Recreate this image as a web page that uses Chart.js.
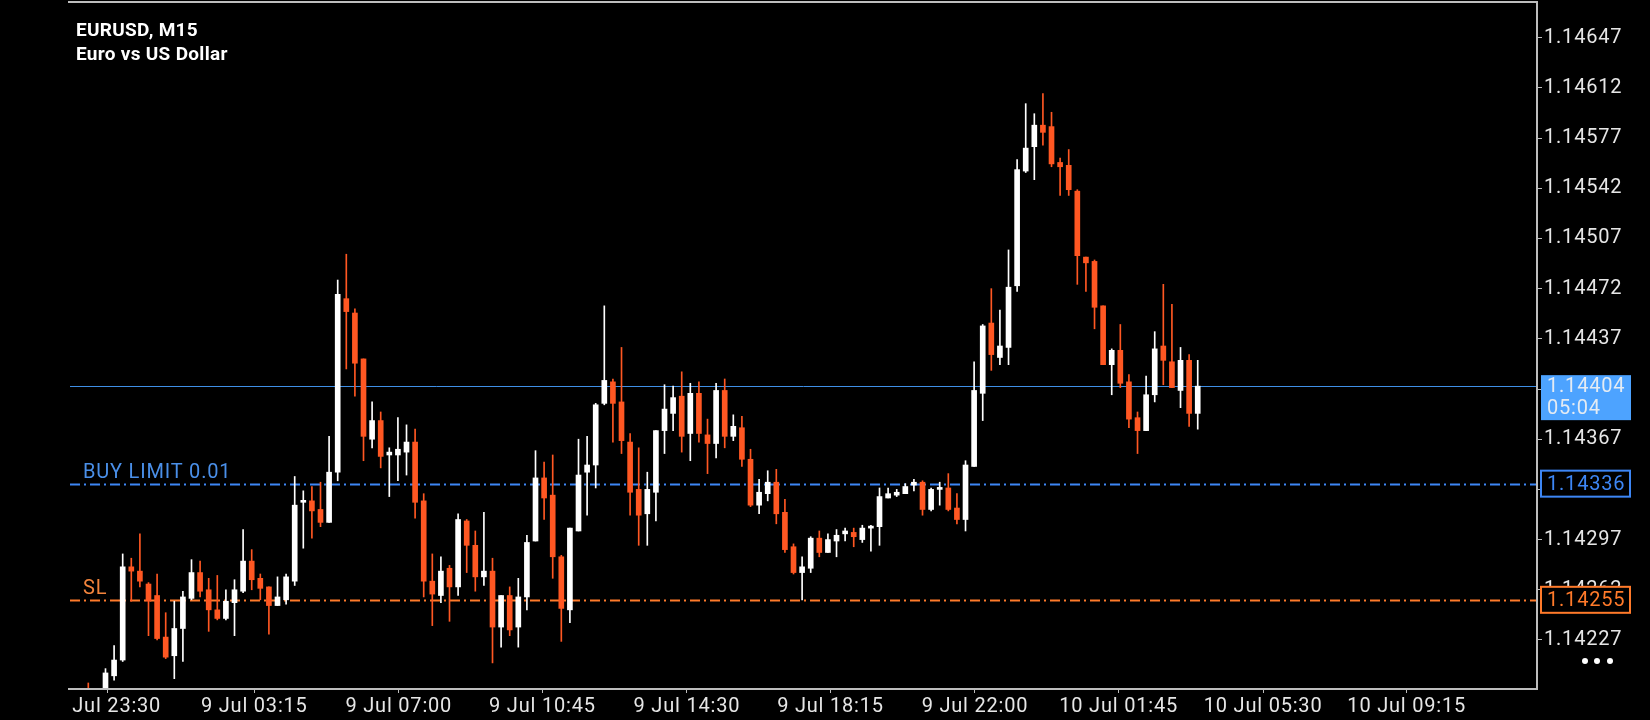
<!DOCTYPE html>
<html>
<head>
<meta charset="utf-8">
<script src="https://cdn.jsdelivr.net/npm/chart.js@4.4.1/dist/chart.umd.min.js"></script>
<style>
  html, body { margin: 0; padding: 0; background: #000; }
  canvas { display: block; }
</style>
</head>
<body>
<canvas id="chart" width="1650" height="720"></canvas>
<script>
// EURUSD M15 candles, oldest first (bar index = position on the time axis)
const open = [
  1.14190, 1.14184, 1.14188, 1.14202, 1.14213, 1.14278, 1.14275, 1.14266, 1.14258, 1.14229,
  1.14216, 1.14235, 1.14256, 1.14274, 1.14262, 1.14248, 1.14242, 1.14253, 1.14261, 1.14282,
  1.14270, 1.14264, 1.14251, 1.14255, 1.14268, 1.14323, 1.14324, 1.14318, 1.14309, 1.14344,
  1.14465, 1.14455, 1.14423, 1.14367, 1.14380, 1.14356, 1.14356, 1.14358, 1.14365, 1.14324,
  1.14268, 1.14258, 1.14277, 1.14264, 1.14310, 1.14293, 1.14271, 1.14275, 1.14236, 1.14258,
  1.14236, 1.14257, 1.14296, 1.14340, 1.14328, 1.14285, 1.14248, 1.14303, 1.14344, 1.14349,
  1.14392, 1.14407, 1.14393, 1.14365, 1.14332, 1.14315, 1.14330, 1.14373, 1.14385, 1.14397,
  1.14371, 1.14399, 1.14370, 1.14364, 1.14401, 1.14369, 1.14375, 1.14353, 1.14321, 1.14329,
  1.14337, 1.14316, 1.14292, 1.14274, 1.14277, 1.14298, 1.14288, 1.14296, 1.14301, 1.14302,
  1.14297, 1.14305, 1.14306, 1.14326, 1.14328, 1.14329, 1.14335, 1.14337, 1.14318, 1.14332,
  1.14333, 1.14319, 1.14311, 1.14348, 1.14399, 1.14448, 1.14424, 1.14431, 1.14474, 1.14554,
  1.14571, 1.14586, 1.14585, 1.14560, 1.14558, 1.14540, 1.14494, 1.14491, 1.14460, 1.14419,
  1.14429, 1.14407, 1.14382, 1.14373, 1.14398, 1.14432, 1.14421, 1.14401, 1.14422, 1.14385
];
const high = [
  1.14197, 1.14191, 1.14207, 1.14223, 1.14287, 1.14284, 1.14301, 1.14267, 1.14273, 1.14246,
  1.14254, 1.14261, 1.14283, 1.14282, 1.14270, 1.14272, 1.14262, 1.14269, 1.14304, 1.14290,
  1.14273, 1.14264, 1.14271, 1.14273, 1.14341, 1.14331, 1.14334, 1.14337, 1.14369, 1.14478,
  1.14496, 1.14458, 1.14423, 1.14393, 1.14386, 1.14361, 1.14382, 1.14377, 1.14374, 1.14329,
  1.14287, 1.14285, 1.14279, 1.14315, 1.14311, 1.14303, 1.14316, 1.14284, 1.14258, 1.14264,
  1.14270, 1.14300, 1.14359, 1.14351, 1.14356, 1.14286, 1.14305, 1.14367, 1.14369, 1.14392,
  1.14460, 1.14409, 1.14431, 1.14371, 1.14361, 1.14344, 1.14373, 1.14405, 1.14404, 1.14414,
  1.14406, 1.14407, 1.14381, 1.14406, 1.14409, 1.14384, 1.14383, 1.14360, 1.14339, 1.14345,
  1.14346, 1.14325, 1.14294, 1.14285, 1.14299, 1.14303, 1.14301, 1.14304, 1.14305, 1.14305,
  1.14307, 1.14307, 1.14333, 1.14333, 1.14332, 1.14336, 1.14339, 1.14338, 1.14333, 1.14337,
  1.14343, 1.14329, 1.14352, 1.14421, 1.14447, 1.14472, 1.14457, 1.14499, 1.14562, 1.14601,
  1.14594, 1.14608, 1.14595, 1.14563, 1.14569, 1.14541, 1.14494, 1.14492, 1.14460, 1.14430,
  1.14447, 1.14412, 1.14386, 1.14411, 1.14442, 1.14475, 1.14461, 1.14431, 1.14426, 1.14422
];
const low = [
  1.14180, 1.14178, 1.14185, 1.14199, 1.14212, 1.14254, 1.14264, 1.14230, 1.14227, 1.14214,
  1.14200, 1.14212, 1.14255, 1.14257, 1.14233, 1.14241, 1.14241, 1.14230, 1.14260, 1.14262,
  1.14255, 1.14231, 1.14251, 1.14252, 1.14265, 1.14291, 1.14298, 1.14306, 1.14309, 1.14338,
  1.14416, 1.14397, 1.14352, 1.14361, 1.14347, 1.14327, 1.14338, 1.14342, 1.14312, 1.14257,
  1.14237, 1.14253, 1.14240, 1.14258, 1.14274, 1.14261, 1.14265, 1.14211, 1.14222, 1.14230,
  1.14222, 1.14248, 1.14296, 1.14311, 1.14270, 1.14226, 1.14239, 1.14303, 1.14314, 1.14333,
  1.14391, 1.14365, 1.14357, 1.14314, 1.14293, 1.14293, 1.14310, 1.14357, 1.14373, 1.14358,
  1.14352, 1.14365, 1.14343, 1.14354, 1.14361, 1.14366, 1.14348, 1.14320, 1.14315, 1.14324,
  1.14308, 1.14288, 1.14273, 1.14255, 1.14274, 1.14285, 1.14288, 1.14285, 1.14296, 1.14292,
  1.14295, 1.14289, 1.14293, 1.14326, 1.14327, 1.14329, 1.14331, 1.14314, 1.14317, 1.14321,
  1.14317, 1.14308, 1.14303, 1.14348, 1.14380, 1.14415, 1.14419, 1.14419, 1.14470, 1.14553,
  1.14548, 1.14572, 1.14557, 1.14537, 1.14537, 1.14475, 1.14470, 1.14444, 1.14419, 1.14398,
  1.14403, 1.14375, 1.14357, 1.14373, 1.14393, 1.14405, 1.14403, 1.14389, 1.14376, 1.14374
];
const close = [
  1.14185, 1.14188, 1.14204, 1.14213, 1.14278, 1.14275, 1.14268, 1.14254, 1.14228, 1.14215,
  1.14235, 1.14257, 1.14274, 1.14261, 1.14248, 1.14242, 1.14254, 1.14262, 1.14282, 1.14269,
  1.14263, 1.14251, 1.14257, 1.14271, 1.14321, 1.143235, 1.14317, 1.14309, 1.14344, 1.14468,
  1.14456, 1.14420, 1.14369, 1.14380, 1.14355, 1.14358, 1.14360, 1.14365, 1.14323, 1.14268,
  1.14259, 1.14275, 1.14264, 1.14311, 1.14293, 1.14271, 1.14275, 1.14236, 1.14258, 1.14234,
  1.14257, 1.14295, 1.14340, 1.14326, 1.14285, 1.14249, 1.14305, 1.14342, 1.14349, 1.14391,
  1.14408, 1.14392, 1.14366, 1.14330, 1.14314, 1.14332, 1.14373, 1.14388, 1.14396, 1.14369,
  1.14399, 1.14371, 1.14364, 1.14401, 1.14369, 1.14376, 1.14353, 1.14321, 1.14330, 1.14337,
  1.14315, 1.14290, 1.14274, 1.14278, 1.14298, 1.14288, 1.14297, 1.14300, 1.14303, 1.14299,
  1.14305, 1.143055, 1.14327, 1.14329, 1.14330, 1.14334, 1.14337, 1.14318, 1.14332, 1.143325,
  1.14318, 1.14311, 1.14349, 1.14401, 1.14446, 1.14426, 1.14432, 1.14473, 1.14555, 1.14570,
  1.14586, 1.14581, 1.14559, 1.14557, 1.14541, 1.14495, 1.14490, 1.14459, 1.14419, 1.14429,
  1.14406, 1.14381, 1.14373, 1.14398, 1.14430, 1.14422, 1.14403, 1.14422, 1.14385, 1.14404
];

const priceTicks = [1.14227, 1.14262, 1.14297, 1.14332, 1.14367, 1.14402, 1.14437,
                    1.14472, 1.14507, 1.14542, 1.14577, 1.14612, 1.14647];
const timeTickPos = [2.27, 19.3, 36.1, 52.8, 69.6, 86.3, 103.1, 119.8, 136.6, 153.3];
const timeLabels = ['8 Jul 23:30', '9 Jul 03:15', '9 Jul 07:00', '9 Jul 10:45', '9 Jul 14:30',
                    '9 Jul 18:15', '9 Jul 22:00', '10 Jul 01:45', '10 Jul 05:30', '10 Jul 09:15'];

const currentPrice = 1.14404;
const barTimeLeft = '05:04';
const buyLimit = 1.14336;
const buyLimitText = 'BUY LIMIT 0.01';
const stopLoss = 1.14255;
const stopLossText = 'SL';

const bullColor = '#ffffff';
const bearColor = '#ff5722';
const textFont = '20px Roboto';
const candleColors = open.map((o, i) => close[i] >= o ? bullColor : bearColor);
const barIndex = open.map((_, i) => i);

// price lines sit behind the candles
const priceLines = {
    id: 'priceLines',
    beforeDatasetsDraw(chart) {
        const { ctx, chartArea: a, scales: { y } } = chart;
        const draw = (price, color, width, dash) => {
            const py = Math.round(y.getPixelForValue(price)) + 0.5;
            ctx.save();
            ctx.strokeStyle = color;
            ctx.lineWidth = width;
            ctx.setLineDash(dash);
            ctx.beginPath();
            ctx.moveTo(a.left + 2, py);
            ctx.lineTo(a.right, py);
            ctx.stroke();
            ctx.restore();
        };
        draw(currentPrice, '#3f8fe6', 1, []);
        draw(buyLimit, '#3d86f5', 2, [10, 4, 2, 4]);
        draw(stopLoss, '#ff7a2a', 2, [10, 4, 2, 4]);
    }
};

// frame, titles, order labels and right-hand price boxes
const overlay = {
    id: 'overlay',
    beforeDraw(chart) {
        chart.ctx.letterSpacing = '0.8px';
    },
    afterDraw(chart) {
        const { ctx, chartArea: a, scales: { y } } = chart;
        ctx.save();

        // first time label runs off the left edge
        ctx.fillStyle = '#000';
        ctx.fillRect(0, a.bottom + 2, a.left + 4, 720 - a.bottom);

        ctx.strokeStyle = '#bdbdbd';
        ctx.lineWidth = 2;
        ctx.beginPath();
        ctx.moveTo(a.left, a.top);
        ctx.lineTo(a.right, a.top);
        ctx.lineTo(a.right, a.bottom);
        ctx.lineTo(a.left, a.bottom);
        ctx.stroke();

        ctx.letterSpacing = '0.3px';
        ctx.fillStyle = '#ffffff';
        ctx.font = 'bold 19px Roboto';
        ctx.textBaseline = 'alphabetic';
        ctx.fillText('EURUSD, M15', 76, 36);
        ctx.fillText('Euro vs US Dollar', 76, 60);

        ctx.letterSpacing = '0.8px';
        ctx.font = textFont;
        const yb = y.getPixelForValue(buyLimit);
        const ys = y.getPixelForValue(stopLoss);
        const yc = y.getPixelForValue(currentPrice);
        ctx.fillStyle = '#4a8fe8';
        ctx.fillText(buyLimitText, 83, yb - 6);
        ctx.fillStyle = '#f3843c';
        ctx.fillText(stopLossText, 83, ys - 6);

        const bx = a.right + 4, bw = 89;
        ctx.textBaseline = 'middle';
        const box = (py, color, text) => {
            ctx.fillStyle = '#000';
            ctx.fillRect(bx, py - 13, bw, 26);
            ctx.strokeStyle = color;
            ctx.lineWidth = 2;
            ctx.strokeRect(bx, py - 13, bw, 26);
            ctx.fillStyle = color;
            ctx.fillText(text, bx + 6, py + 1);
        };
        box(yb, '#3d86f5', buyLimit.toFixed(5));
        box(ys, '#ff7a2a', stopLoss.toFixed(5));

        ctx.fillStyle = '#4da3ff';
        ctx.fillRect(bx, yc - 11, bw + 1, 45);
        ctx.fillStyle = '#e4ebf3';
        ctx.fillText(currentPrice.toFixed(5), bx + 6, yc + 1);
        ctx.fillText(barTimeLeft, bx + 6, yc + 23);

        ctx.fillStyle = '#ffffff';
        [1585, 1597, 1610].forEach(cx => {
            ctx.beginPath();
            ctx.arc(cx, 661, 3, 0, Math.PI * 2);
            ctx.fill();
        });
        ctx.restore();
    }
};

new Chart(document.getElementById('chart'), {
    type: 'bar',
    data: {
        datasets: [
            {
                label: 'wick',
                data: barIndex.map(i => ({ x: i, y: [low[i], high[i]] })),
                backgroundColor: candleColors,
                barThickness: 1,
                grouped: false,
                order: 2
            },
            {
                label: 'body',
                data: barIndex.map(i => ({ x: i, y: [open[i], close[i]] })),
                backgroundColor: candleColors,
                barThickness: 5,
                minBarLength: 2,
                grouped: false,
                order: 1
            }
        ]
    },
    options: {
        responsive: false,
        animation: false,
        events: [],
        layout: { padding: { left: 68, top: 2, right: 0, bottom: 0 } },
        plugins: {
            legend: { display: false },
            tooltip: { enabled: false }
        },
        scales: {
            x: {
                type: 'linear',
                min: -2.36,
                max: 168.45,
                offset: false,
                bounds: 'data',
                border: { display: false },
                grid: { drawOnChartArea: false, drawTicks: true, tickLength: 4, color: '#bdbdbd', offset: false },
                afterBuildTicks: s => { s.ticks = timeTickPos.map(v => ({ value: v })); },
                afterFit: s => { s.height = 31; s.paddingLeft = 0; s.paddingRight = 0; },
                ticks: {
                    autoSkip: false,
                    maxRotation: 0,
                    padding: 2,
                    color: '#e6e6e6',
                    font: { family: 'Roboto', size: 20 },
                    callback: (v, i) => timeLabels[i]
                }
            },
            y: {
                position: 'right',
                min: 1.141928,
                max: 1.146719,
                bounds: 'data',
                border: { display: false },
                grid: { drawOnChartArea: false, drawTicks: true, tickLength: 5, color: '#bdbdbd' },
                afterBuildTicks: s => { s.ticks = priceTicks.map(v => ({ value: v })); },
                afterFit: s => { s.width = 113; s.paddingTop = 0; s.paddingBottom = 0; },
                ticks: {
                    autoSkip: false,
                    padding: 2,
                    color: '#e6e6e6',
                    font: { family: 'Roboto', size: 20 },
                    callback: v => v.toFixed(5)
                }
            }
        }
    },
    plugins: [priceLines, overlay]
});
</script>
</body>
</html>
